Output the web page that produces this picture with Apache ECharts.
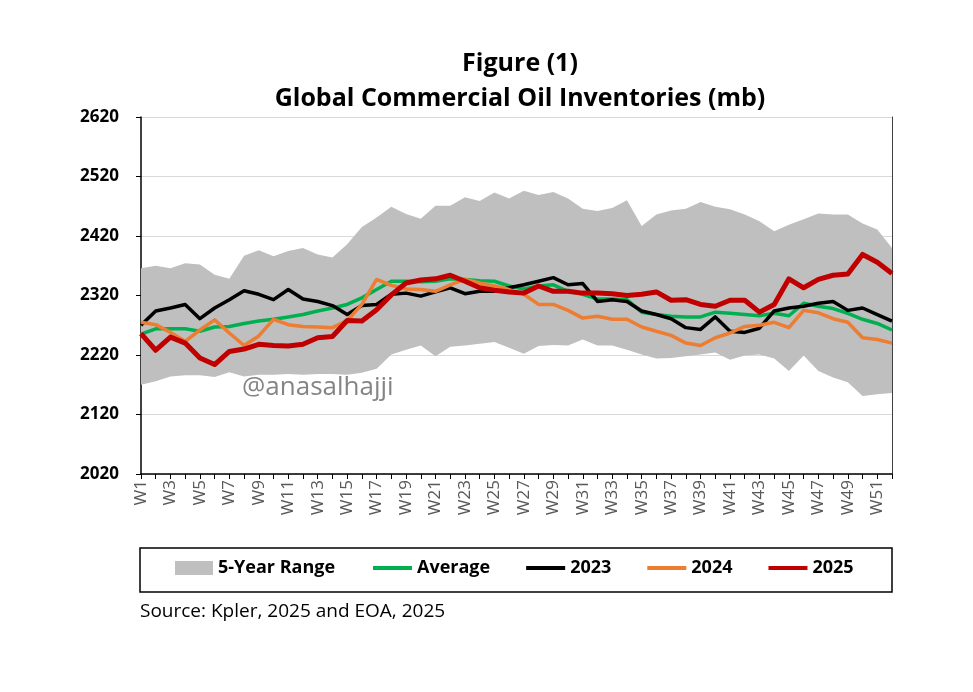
<!DOCTYPE html>
<html><head><meta charset="utf-8">
<script src="https://cdn.jsdelivr.net/npm/echarts@6/dist/echarts.min.js"></script>
<style>html,body{margin:0;padding:0;background:#fff}#c{width:973px;height:692px}</style>
</head><body><div id="c"></div>
<script>
const weeks = ['W1','W2','W3','W4','W5','W6','W7','W8','W9','W10','W11','W12','W13','W14','W15','W16','W17','W18','W19','W20','W21','W22','W23','W24','W25','W26','W27','W28','W29','W30','W31','W32','W33','W34','W35','W36','W37','W38','W39','W40','W41','W42','W43','W44','W45','W46','W47','W48','W49','W50','W51','W52'];
const rangeHigh = [2366,2370,2366,2374,2372,2355,2348,2387,2396,2386,2395,2400,2389,2384,2406,2435,2451,2469,2457,2449,2471,2471,2485,2479,2493,2483,2496,2489,2494,2483,2466,2462,2467,2480,2437,2456,2463,2466,2477,2469,2465,2456,2445,2428,2439,2448,2458,2456,2456,2441,2431,2400];
const rangeLow = [2170,2176,2184,2186,2186,2183,2191,2184,2187,2187,2188,2187,2188,2188,2187,2190,2197,2221,2229,2236,2218,2234,2236,2239,2242,2232,2222,2235,2237,2236,2246,2236,2236,2229,2221,2214,2215,2218,2221,2224,2212,2219,2221,2214,2193,2219,2193,2182,2174,2151,2154,2156];
const average = [2255,2264,2264,2264,2260,2267,2268,2273,2277,2280,2284,2288,2294,2299,2305,2316,2330,2344,2344,2343,2344,2348,2347,2345,2344,2336,2331,2336,2338,2327,2322,2314,2314,2313,2292,2288,2285,2284,2284,2292,2290,2288,2286,2290,2286,2307,2302,2298,2290,2280,2273,2262];
const y2023 = [2270,2294,2299,2305,2281,2299,2313,2328,2322,2313,2330,2314,2310,2303,2288,2303,2305,2322,2324,2319,2326,2333,2323,2327,2327,2333,2338,2344,2350,2338,2340,2310,2313,2310,2294,2288,2281,2266,2263,2284,2260,2258,2265,2294,2299,2302,2307,2310,2295,2299,2288,2277];
const y2024 = [2275,2271,2258,2243,2262,2279,2257,2236,2252,2280,2271,2268,2267,2266,2278,2305,2347,2337,2331,2330,2327,2338,2347,2341,2336,2330,2322,2305,2305,2295,2282,2285,2280,2280,2267,2260,2253,2240,2236,2249,2257,2268,2270,2275,2266,2295,2291,2281,2275,2249,2246,2240];
const y2025 = [2256,2228,2250,2240,2215,2204,2226,2230,2238,2236,2235,2238,2249,2251,2278,2277,2296,2321,2341,2346,2348,2354,2344,2333,2329,2326,2324,2336,2327,2327,2324,2324,2323,2320,2322,2326,2312,2313,2305,2302,2312,2312,2292,2305,2348,2333,2347,2354,2356,2389,2376,2357];
const yTicks = {min: 2020, max: 2620, step: 100};
const legendNames = ['5-Year Range','Average','2023','2024','2025'];

const FF = "'Open Sans','Noto Sans',sans-serif";
const chart = echarts.init(document.getElementById('c'));
const bandWidth = rangeHigh.map((v, i) => v - rangeLow[i]);
function lineSeries(name, data, color, width) {
  return {name, type: 'line', data, symbol: 'none', showSymbol: false,
    lineStyle: {color, width, join: 'round'}, itemStyle: {color}, z: 3};
}
const legendText = {color: '#000', fontWeight: 'bold', fontSize: 18, fontFamily: FF};
chart.setOption({
  animation: false,
  backgroundColor: '#fff',
  grid: {left: 141, right: 81, top: 117, bottom: 218},
  xAxis: {
    type: 'category', data: weeks, boundaryGap: false,
    axisLine: {lineStyle: {color: '#000', width: 1.5}},
    axisTick: {show: true, interval: 0, length: 5, lineStyle: {color: '#000'}},
    axisLabel: {interval: 1, rotate: 90, color: '#595959', fontSize: 17, fontFamily: FF, margin: 6},
    splitLine: {show: false}
  },
  yAxis: [{
    type: 'value', min: yTicks.min, max: yTicks.max, interval: yTicks.step,
    axisLine: {show: true, lineStyle: {color: '#000', width: 1.5}},
    axisTick: {show: true, length: 5, lineStyle: {color: '#000'}},
    axisLabel: {color: '#000', fontWeight: 'bold', fontSize: 17, fontFamily: FF, margin: 22,
      formatter: v => String(v)},
    splitLine: {lineStyle: {color: '#d9d9d9', width: 1}}
  }, {
    type: 'value', position: 'right', min: yTicks.min, max: yTicks.max, interval: yTicks.step,
    axisLine: {show: true, lineStyle: {color: '#404040', width: 1}},
    axisTick: {show: false}, axisLabel: {show: false}, splitLine: {show: false}
  }],
  legend: [{
    data: [{name: legendNames[0], icon: 'rect'}],
    left: 175, top: 559, padding: 0, itemWidth: 38, itemHeight: 14, textStyle: legendText
  }, {
    data: legendNames.slice(1).map(n => ({name: n, icon: 'rect'})),
    left: 373, top: 559, padding: 0, itemGap: 36, itemWidth: 39, itemHeight: 4, textStyle: legendText
  }],
  series: [
    {name: 'low', type: 'line', stack: 'band', data: rangeLow, symbol: 'none', showSymbol: false,
      lineStyle: {opacity: 0, width: 0}, silent: true, z: 1},
    {name: legendNames[0], type: 'line', stack: 'band', data: bandWidth, symbol: 'none', showSymbol: false,
      lineStyle: {opacity: 0, width: 0}, areaStyle: {color: '#bfbfbf', opacity: 1},
      itemStyle: {color: '#bfbfbf'}, z: 1},
    lineSeries(legendNames[1], average, '#00b050', 3.5),
    lineSeries(legendNames[2], y2023, '#000000', 3.5),
    lineSeries(legendNames[3], y2024, '#ed7d31', 3.5),
    lineSeries(legendNames[4], y2025, '#c00000', 5)
  ],
  graphic: [
    {type: 'text', x: 520, y: 64, style: {text: 'Figure (1)', fontSize: 25, fontWeight: 'bold', fontFamily: FF, fill: '#000', align: 'center', verticalAlign: 'middle'}},
    {type: 'text', x: 520, y: 99, style: {text: 'Global Commercial Oil Inventories (mb)', fontSize: 25, fontWeight: 'bold', fontFamily: FF, fill: '#000', align: 'center', verticalAlign: 'middle'}},
    {type: 'text', x: 242, y: 388, z: 10, style: {text: '@anasalhajji', fontSize: 26, fontFamily: FF, fill: 'rgba(110,110,110,0.85)', align: 'left', verticalAlign: 'middle'}},
    {type: 'rect', shape: {x: 140, y: 548, width: 752, height: 44}, style: {fill: 'none', stroke: '#000', lineWidth: 1.5}},
    {type: 'text', x: 140, y: 612, style: {text: 'Source: Kpler, 2025 and EOA, 2025', fontSize: 19, fontFamily: FF, fill: '#000', align: 'left', verticalAlign: 'middle'}}
  ]
});
</script></body></html>
